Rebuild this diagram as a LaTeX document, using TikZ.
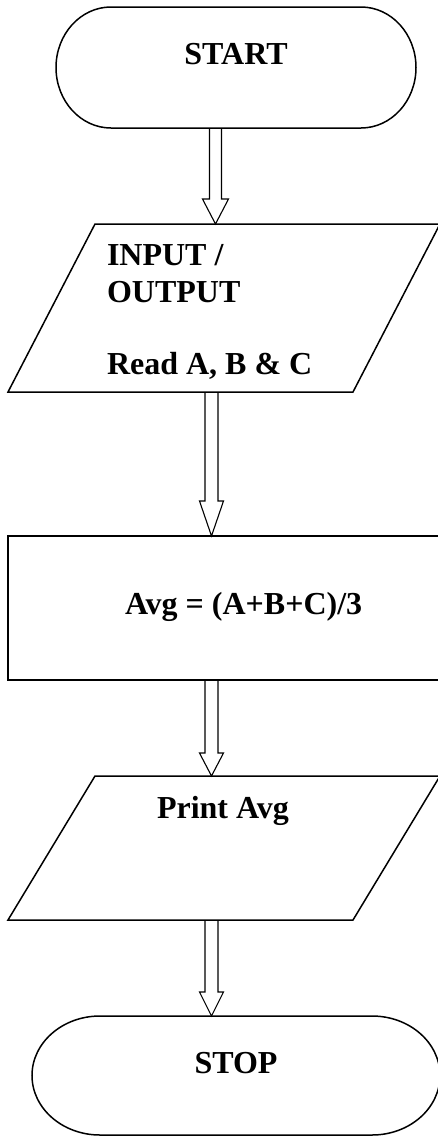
\documentclass[tikz,border=0pt]{standalone}
\usepackage{fontspec}
\setmainfont{Liberation Serif}
\usetikzlibrary{calc}

\tikzset{
  box/.style={draw=none, inner sep=0pt, outer sep=0pt, anchor=north west},
  shapeline/.style={draw=black, line width=1.5pt, line join=miter},
  arrowline/.style={draw=black, line width=1.1pt, line join=miter},
  txt/.style={inner sep=0pt, outer sep=0pt, font=\bfseries\fontsize{32}{37}\selectfont},
  termtxt/.style={box, text height=57pt, font=\bfseries\fontsize{32}{37}\selectfont}
}

% capsule outline around a node: #1 node, #2 end x radius, #3 end y radius
\newcommand\capsule[3]{%
  \draw[shapeline] ([xshift=#2]#1.north west) -- ([xshift=-#2]#1.north east)
    arc[start angle=90, end angle=-90, x radius=#2, y radius=#3]
    -- ([xshift=#2]#1.south west)
    arc[start angle=270, end angle=90, x radius=#2, y radius=#3] -- cycle;}

% parallelogram outline inside a node's box: #1 node, #2 slant offset
\newcommand\slantbox[2]{%
  \draw[shapeline] (#1.south west) -- ([xshift=#2]#1.north west)
    -- (#1.north east) -- ([xshift=-#2]#1.south east) -- cycle;}

% hollow downward arrow: #1 from, #2 to, #3 axis x, #4 shaft half width,
% #5 head half width, #6 head length
\newcommand\hollowarrow[6]{%
  \draw[arrowline] let \p1=(#1.south), \p2=(#2.north) in
    (#3-#4,\y1) -- (#3-#4,\y2+#6) -- (#3-#5,\y2+#6) -- (#3,\y2)
    -- (#3+#5,\y2+#6) -- (#3+#4,\y2+#6) -- (#3+#4,\y1);}

\begin{document}
\begin{tikzpicture}[x=1pt, y=-1pt]
  \useasboundingbox (0,0) rectangle (438,1136);
  \clip (0,0) rectangle (438,1136);

  % terminals
  \node[termtxt, minimum width=360pt, text depth=64pt] (start) at (56,7) {START};
  \capsule{start}{55pt}{60.5pt}

  \node[termtxt, minimum width=408pt, text depth=62pt] (stop) at (32,1016) {STOP};
  \capsule{stop}{68pt}{59.5pt}

  % input / output boxes
  \node[box, minimum width=432pt, minimum height=168pt] (io1) at (8,224) {};
  \slantbox{io1}{87pt}
  \node[txt, anchor=base west, align=left] (io1text) at (107,374)
    {INPUT /\\OUTPUT\\[35pt]Read A, B \& C};

  \node[box, minimum width=432pt, minimum height=144pt] (io2) at (8,776) {};
  \slantbox{io2}{87pt}
  \node[txt, anchor=base west] (io2text) at (157,818) {Print Avg};

  % process box
  \node[box, minimum width=437pt, minimum height=144pt] (calc) at (8,536) {};
  \draw[shapeline] (calc.south west) rectangle (calc.north east);
  \node[txt, anchor=base west] (calctext) at (125,614) {Avg = (A+B+C)/3};

  % flow arrows
  \hollowarrow{start}{io1}{215.5pt}{6pt}{13pt}{25pt}
  \hollowarrow{io1}{calc}{211.5pt}{6.5pt}{12pt}{35pt}
  \hollowarrow{calc}{io2}{211.5pt}{6.5pt}{12pt}{23pt}
  \hollowarrow{io2}{stop}{211.5pt}{6.5pt}{12pt}{24pt}
\end{tikzpicture}
\end{document}
